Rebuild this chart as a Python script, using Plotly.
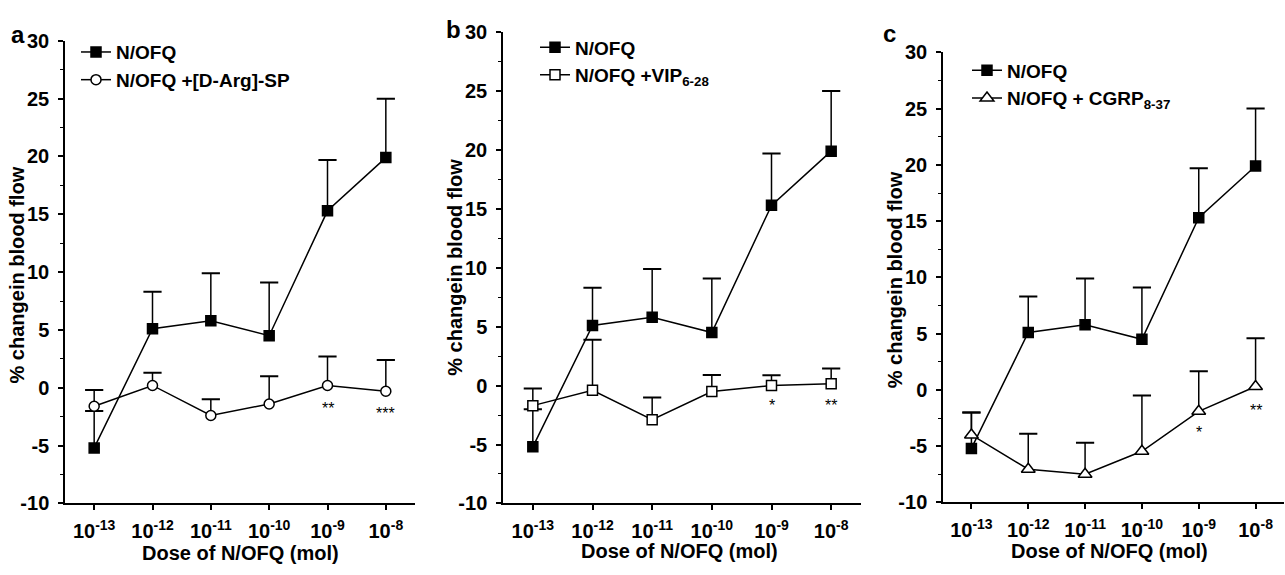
import plotly.graph_objects as go

W, H = 1285, 575

# ---------------- data ----------------
dose_pos = [1, 2, 3, 4, 5, 6]
dose_labels = ["10<sup>-13</sup>", "10<sup>-12</sup>", "10<sup>-11</sup>",
               "10<sup>-10</sup>", "10<sup>-9</sup>", "10<sup>-8</sup>"]
y_tick_vals = [-10, -5, 0, 5, 10, 15, 20, 25, 30]
y_tick_text = ["-10", "-5", "0", "5", "10", "15", "20", "25", "30"]

nofq_mean = [-5.2, 5.1, 5.8, 4.5, 15.3, 19.9]
nofq_sem = [3.2, 3.2, 4.1, 4.6, 4.4, 5.1]

darg_mean = [-1.6, 0.2, -2.4, -1.4, 0.2, -0.3]
darg_sem = [1.4, 1.1, 1.4, 2.4, 2.5, 2.7]

vip_mean = [-1.7, -0.4, -2.9, -0.5, 0.0, 0.15]
vip_sem = [1.45, 4.3, 1.9, 1.4, 0.87, 1.3]

cgrp_mean = [-4.0, -7.05, -7.5, -5.45, -1.9, 0.3]
cgrp_sem = [2.0, 3.15, 2.8, 4.95, 3.55, 4.3]

sig_a_text = ["**", "***"]
sig_a_y = [-1.8, -2.2]
sig_b_text = ["*", "**"]
sig_b_y = [-1.7, -1.7]
sig_c_text = ["*", "**"]
sig_c_y = [-3.8, -1.8]
sig_x = [5, 6]

# ---------------- layout helpers ----------------
FONT = "Liberation Sans"

def px_x(p):
    return p / W

def px_y(p):
    return 1 - p / H

panels = [
    dict(name="a", xd=[65, 415], yd=[31, 512], legend_xy=(76, 23)),
    dict(name="b", xd=[503, 861], yd=[22, 512], legend_xy=(535, 18)),
    dict(name="c", xd=[943, 1284], yd=[43, 511], legend_xy=(967, 42)),
]

fig = go.Figure()

def add_series(idx, mean, sem, name, symbol, fill, legend):
    xa = "x" if idx == 0 else f"x{idx+1}"
    ya = "y" if idx == 0 else f"y{idx+1}"
    fig.add_trace(go.Scatter(
        x=dose_pos, y=mean, name=name, mode="lines+markers",
        xaxis=xa, yaxis=ya, legend=legend,
        line=dict(color="black", width=1.5),
        marker=dict(symbol=symbol, size=10 if symbol != "triangle-up" else 12,
                    color=fill, line=dict(color="black", width=1.5)),
        error_y=dict(type="data", symmetric=False, array=sem,
                     arrayminus=[0] * len(sem), width=0, thickness=1.5,
                     color="black"),
    ))
    tops = [m + s for m, s in zip(mean, sem)]
    fig.add_trace(go.Scatter(
        x=dose_pos, y=tops, mode="markers", showlegend=False,
        xaxis=xa, yaxis=ya, hoverinfo="skip",
        marker=dict(symbol="line-ew", size=13, color="black",
                    line=dict(color="black", width=2)),
    ))

add_series(0, nofq_mean, nofq_sem, "N/OFQ", "square", "black", "legend")
add_series(0, darg_mean, darg_sem, "N/OFQ +[D-Arg]-SP", "circle", "white", "legend")
add_series(1, nofq_mean, nofq_sem, "N/OFQ", "square", "black", "legend2")
add_series(1, vip_mean, vip_sem, "N/OFQ +VIP<sub>6-28</sub>", "square", "white", "legend2")
add_series(2, nofq_mean, nofq_sem, "N/OFQ", "square", "black", "legend3")
add_series(2, cgrp_mean, cgrp_sem, "N/OFQ + CGRP<sub>8-37</sub>", "triangle-up", "white", "legend3")

layout = dict(
    width=W, height=H, margin=dict(l=0, r=0, t=0, b=0),
    paper_bgcolor="white", plot_bgcolor="white",
    font=dict(family=FONT, color="black", size=18),
    showlegend=True,
)

annotations = []
for i, p in enumerate(panels):
    sx = "" if i == 0 else str(i + 1)
    layout["xaxis" + sx] = dict(
        domain=[px_x(p["xd"][0]), px_x(p["xd"][1])],
        anchor="y" + sx, range=[0.5, 6.5],
        tickvals=dose_pos, ticktext=dose_labels,
        ticks="outside", ticklen=5, tickwidth=1.5, tickcolor="black",
        showline=True, linecolor="black", linewidth=1.5,
        showgrid=False, zeroline=False, fixedrange=True,
        tickfont=dict(family=FONT, size=20, weight="bold"),
        ticklabelstandoff=4,
    )
    layout["yaxis" + sx] = dict(
        domain=[px_y(p["yd"][1]), px_y(p["yd"][0])],
        anchor="x" + sx, range=[-10, 30],
        tickvals=y_tick_vals, ticktext=y_tick_text,
        ticks="outside", ticklen=5, tickwidth=1.5, tickcolor="black",
        minor=dict(dtick=2.5, tick0=0, ticks="outside", ticklen=3, tickwidth=1, tickcolor="black"),
        showline=True, linecolor="black", linewidth=1.5,
        showgrid=False, zeroline=False, fixedrange=True,
        tickfont=dict(family=FONT, size=20, weight="bold"),
        ticklabelstandoff=5,
    )
    lg = "legend" if i == 0 else f"legend{i+1}"
    layout[lg] = dict(
        x=px_x(p["legend_xy"][0]), y=px_y(p["legend_xy"][1]),
        xanchor="left", yanchor="top", bgcolor="rgba(0,0,0,0)",
        borderwidth=0, itemwidth=30, tracegroupgap=0,
        font=dict(family=FONT, size=19, weight="bold", color="black"),
    )

# panel letters
for letter, (lx, ly) in zip(["a", "b", "c"], [(18, 24), (453, 19), (889, 23)]):
    annotations.append(dict(text=letter, x=px_x(lx), y=px_y(ly), xref="paper", yref="paper",
                            showarrow=False, xanchor="center", yanchor="middle",
                            font=dict(family=FONT, size=24, weight="bold")))

# axis titles
for (tx, ty) in [(17, 275), (455, 267), (895, 280)]:
    annotations.append(dict(text="% changein blood flow", x=px_x(tx), y=px_y(ty),
                            xref="paper", yref="paper", showarrow=False, textangle=-90,
                            xanchor="center", yanchor="middle",
                            font=dict(family=FONT, size=20, weight="bold")))
for (tx, ty) in [(240, 564), (679, 562), (1109, 561)]:
    annotations.append(dict(text="Dose of N/OFQ (mol)", x=px_x(tx), y=px_y(ty),
                            xref="paper", yref="paper", showarrow=False,
                            xanchor="center", yanchor="middle",
                            font=dict(family=FONT, size=20, weight="bold")))

# significance marks
for i, (texts, ys) in enumerate([(sig_a_text, sig_a_y), (sig_b_text, sig_b_y), (sig_c_text, sig_c_y)]):
    sx = "" if i == 0 else str(i + 1)
    for t, xv, yv in zip(texts, sig_x, ys):
        annotations.append(dict(text=t, x=xv, y=yv, xref="x" + sx, yref="y" + sx,
                                showarrow=False, xanchor="center", yanchor="middle",
                                font=dict(family=FONT, size=16, color="black")))

layout["annotations"] = annotations
fig.update_layout(**layout)
fig.write_html("out.html")
